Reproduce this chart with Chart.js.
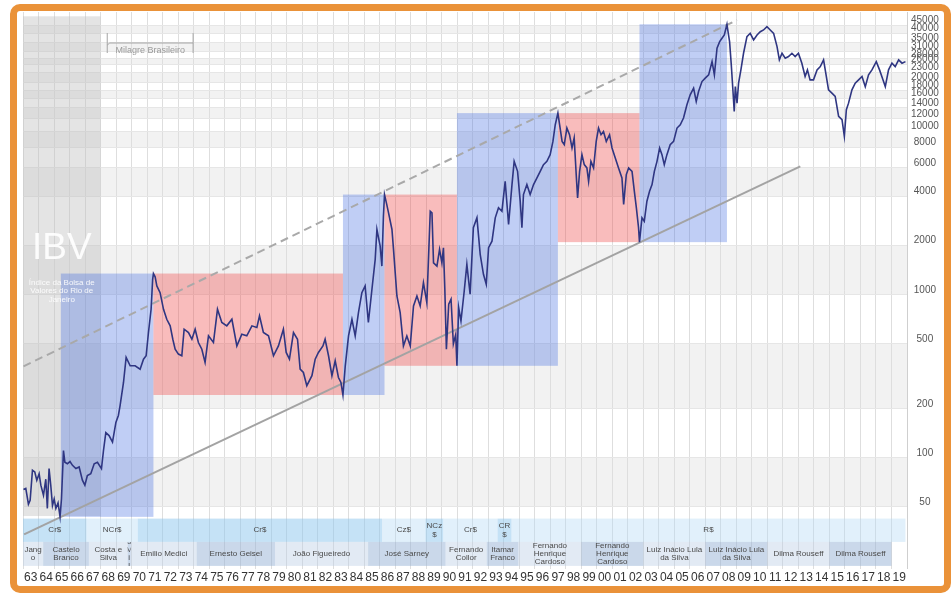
<!DOCTYPE html>
<html>
<head>
<meta charset="utf-8">
<title>IBV</title>
<script src="https://cdn.jsdelivr.net/npm/chart.js@4.4.1/dist/chart.umd.min.js"></script>
<style>
  html, body { margin: 0; padding: 0; background: #fff; }
  #frame { position: absolute; left: 10px; top: 4px; width: 941px; height: 589px;
           box-sizing: border-box; border: 7px solid #ea9239; border-radius: 10px; background: #fff; }
  #ibvChart { position: absolute; left: 0; top: 0; }
</style>
</head>
<body>
<div id="frame"></div>
<canvas id="ibvChart" width="952" height="593"></canvas>
<script>
// Série do IBV (ano, pontos)
var ibvYears = [
  1963.03, 1963.18, 1963.35, 1963.46, 1963.61, 1963.76, 1963.89, 1964.04, 1964.15, 1964.32,
  1964.47, 1964.57, 1964.68, 1964.79, 1964.90, 1965.01, 1965.12, 1965.26, 1965.39, 1965.48,
  1965.61, 1965.70, 1965.86, 1966.03, 1966.19, 1966.41, 1966.62, 1966.83, 1966.99, 1967.15,
  1967.37, 1967.59, 1967.80, 1968.06, 1968.19, 1968.34, 1968.55, 1968.77, 1968.99, 1969.15,
  1969.26, 1969.48, 1969.65, 1969.91, 1970.23, 1970.55, 1970.77, 1970.94, 1971.09, 1971.26,
  1971.36, 1971.41, 1971.52, 1971.63, 1971.84, 1972.06, 1972.27, 1972.49, 1972.66, 1972.81,
  1973.02, 1973.24, 1973.39, 1973.67, 1973.89, 1974.10, 1974.31, 1974.53, 1974.74, 1974.96,
  1975.28, 1975.54, 1975.82, 1976.14, 1976.47, 1976.79, 1977.11, 1977.43, 1977.76, 1978.08,
  1978.25, 1978.50, 1978.83, 1979.15, 1979.47, 1979.79, 1979.97, 1980.18, 1980.44, 1980.70,
  1980.87, 1981.08, 1981.30, 1981.63, 1981.84, 1982.05, 1982.34, 1982.48, 1982.70, 1982.92,
  1983.13, 1983.34, 1983.50, 1983.63, 1983.78, 1983.99, 1984.21, 1984.42, 1984.63, 1984.85,
  1985.06, 1985.27, 1985.50, 1985.71, 1985.82, 1986.03, 1986.14, 1986.24, 1986.31, 1986.45,
  1986.57, 1986.79, 1986.89, 1987.11, 1987.32, 1987.53, 1987.75, 1987.97, 1988.18, 1988.40,
  1988.61, 1988.82, 1989.04, 1989.26, 1989.37, 1989.47, 1989.69, 1989.86, 1990.01, 1990.11,
  1990.20, 1990.30, 1990.45, 1990.60, 1990.75, 1990.90, 1990.98, 1991.09, 1991.24, 1991.45,
  1991.62, 1991.83, 1992.04, 1992.27, 1992.48, 1992.69, 1992.87, 1993.02, 1993.24, 1993.45,
  1993.66, 1993.88, 1994.09, 1994.31, 1994.53, 1994.67, 1994.89, 1995.06, 1995.17, 1995.27,
  1995.49, 1995.70, 1995.92, 1996.14, 1996.35, 1996.56, 1996.78, 1996.99, 1997.17, 1997.32,
  1997.49, 1997.60, 1997.76, 1997.90, 1998.07, 1998.24, 1998.40, 1998.54, 1998.67, 1998.76,
  1998.89, 1999.04, 1999.19, 1999.36, 1999.47, 1999.62, 1999.79, 1999.96, 2000.11, 2000.27,
  2000.43, 2000.61, 2000.82, 2000.98, 2001.19, 2001.40, 2001.62, 2001.73, 2001.90, 2002.05,
  2002.27, 2002.42, 2002.55, 2002.69, 2002.75, 2002.91, 2003.06, 2003.23, 2003.40, 2003.56,
  2003.71, 2003.88, 2004.05, 2004.20, 2004.35, 2004.52, 2004.73, 2004.95, 2005.17, 2005.38,
  2005.59, 2005.81, 2006.02, 2006.24, 2006.41, 2006.56, 2006.78, 2006.99, 2007.21, 2007.43,
  2007.58, 2007.75, 2007.92, 2008.07, 2008.22, 2008.39, 2008.46, 2008.56, 2008.67, 2008.78,
  2008.86, 2008.93, 2009.04, 2009.14, 2009.29, 2009.46, 2009.68, 2009.89, 2010.11, 2010.33,
  2010.54, 2010.75, 2010.97, 2011.18, 2011.40, 2011.62, 2011.77, 2011.94, 2012.15, 2012.36,
  2012.58, 2012.79, 2013.00, 2013.22, 2013.43, 2013.58, 2013.75, 2013.97, 2014.20, 2014.41,
  2014.62, 2014.80, 2014.94, 2015.16, 2015.37, 2015.59, 2015.81, 2015.96, 2016.09, 2016.23,
  2016.45, 2016.66, 2016.88, 2017.10, 2017.31, 2017.52, 2017.74, 2018.02, 2018.23, 2018.45,
  2018.60, 2018.81, 2019.03, 2019.24, 2019.46, 2019.68, 2019.90
];
var ibvValues = [
  64, 65, 52, 55, 84, 82, 73, 80, 68, 59,
  74, 49, 86, 68, 51, 56, 49, 53, 43.5, 56,
  111, 94, 92, 95, 90, 86, 88, 73, 68, 78,
  80, 92, 94, 86, 111, 143, 137, 125, 165, 182,
  209, 290, 413, 367, 367, 350, 403, 423, 587, 815,
  1244, 1350, 1290, 1133, 1031, 815, 708, 645, 534, 464,
  433, 423, 615, 587, 534, 615, 510, 464, 385, 560,
  510, 815, 676, 645, 708, 486, 573, 560, 645, 630,
  742, 587, 560, 423, 486, 615, 443, 403, 587, 534,
  350, 334, 277, 319, 403, 443, 486, 534, 423, 319,
  394, 311, 290, 243, 367, 560, 708, 560, 778, 1031,
  1133, 676, 1081, 1649, 2515, 1990, 1500, 3030, 4118, 3600,
  3180, 2515, 1898, 984, 778, 486, 560, 486, 854, 984,
  854, 1187, 895, 3250, 3180, 1570, 1500, 1898, 1570, 1940,
  1080, 464, 875, 940, 500, 570, 367, 835, 691, 1055,
  1537, 1008, 2576, 2965, 1770, 1335, 1160, 1944, 2133, 2965,
  3415, 3254, 4965, 2700, 4740, 6580, 5715, 3750, 2576, 4118,
  4740, 4118, 4740, 5210, 5715, 6284, 6580, 7233, 8720, 11036,
  13000, 11036, 8720, 8330, 10530, 9590, 7950, 9150, 5460, 3930,
  5715, 7233, 6284, 6000, 4965, 6580, 6000, 8720, 10530, 9590,
  10040, 8720, 9590, 7950, 6900, 6000, 5210, 3580, 5460, 6000,
  5715, 4310, 3415, 2576, 2103, 2965, 2826, 3750, 4310, 4740,
  5715, 6580, 7950, 7233, 6284, 7233, 8330, 8720, 10530, 11036,
  12130, 14630, 16840, 18500, 15320, 17640, 20300, 21300, 22300, 26900,
  22300, 32500, 35660, 37400, 39200, 45570, 41050, 35660, 25700, 17640,
  13300, 18900, 14970, 19840, 23940, 30270, 38290, 40120, 36535, 39200,
  41050, 42060, 44080, 42060, 40120, 33260, 27570, 30270, 28230, 28890,
  30270, 28890, 30270, 26310, 21800, 23940, 20800, 20800, 23940, 25090,
  27570, 21800, 18070, 17240, 16450, 12410, 11840, 9360, 13630, 14970,
  18070, 19840, 20800, 21800, 18900, 22300, 23940, 26900, 23940, 20800,
  18900, 23940, 26310, 25090, 27570, 26310, 26900
];

// Ciclos de alta (azul) e baixa (vermelho)
var cycleStart = [1965.44, 1971.41, 1983.63, 1986.31, 1990.98, 1997.49, 2002.75];
var cycleEnd   = [1971.41, 1983.63, 1986.31, 1990.98, 1997.49, 2002.75, 2008.39];
var cycleLow   = [43.5, 243, 243, 367, 367, 2103, 2103];
var cycleHigh  = [1350, 1350, 4118, 4118, 13000, 13000, 45570];
var cycleKind  = ['alta', 'baixa', 'alta', 'baixa', 'alta', 'baixa', 'alta'];

// Linhas de tendência (ano, pontos)
var topTrendYears = [1963.03, 2009.04];
var topTrendValues = [364, 48400];
var baseTrendYears = [1963.07, 2013.12];
var baseTrendValues = [34, 6130];

// Faixa IBV e Milagre Brasileiro
var ibvBandYears = [1963, 1968];
var ibvBandValues = [44, 51000];
var milagreYears = [1968.4, 1974.0];

// Moedas
var currencyNames = ['Cr$', 'NCr$', 'Cr$', 'Cz$', 'NCz$', 'Cr$', 'CR$', 'R$'];
var currencyStart = [1963, 1967.1, 1970.4, 1986.15, 1988.95, 1990.1, 1993.6, 1994.5];
var currencyEnd   = [1967.1, 1970.4, 1986.15, 1988.95, 1990.1, 1993.6, 1994.5, 2019.9];

// Presidentes
var presNames = ['Jango', 'Castelo Branco', 'Costa e Silva', 'Junta Militar', 'Emilio Medici',
  'Ernesto Geisel', 'João Figueiredo', 'José Sarney', 'Fernando Collor', 'Itamar Franco',
  'Fernando Henrique Cardoso', 'Fernando Henrique Cardoso', 'Luiz Inácio Lula da Silva',
  'Luiz Inácio Lula da Silva', 'Dilma Rouseff', 'Dilma Rouseff'];
var presStart = [1963, 1964.3, 1967.25, 1969.75, 1969.95, 1974.2, 1979.25, 1985.25, 1990.25,
  1992.9, 1994.95, 1999, 2003, 2007, 2011, 2015];
var presEnd = [1964.3, 1967.25, 1969.75, 1969.95, 1974.2, 1979.25, 1985.25, 1990.25, 1992.9,
  1994.95, 1999, 2003, 2007, 2011, 2015, 2019];

// Eixos
var gridYears = [];
for (var g = 1963; g <= 2020; g++) gridYears.push(g);
var yearLabels = ['63','64','65','66','67','68','69','70','71','72','73','74','75','76','77',
  '78','79','80','81','82','83','84','85','86','87','88','89','90','91','92','93','94','95',
  '96','97','98','99','00','01','02','03','04','05','06','07','08','09','10','11','12','13',
  '14','15','16','17','18','19'];
var yTicks = [50, 100, 200, 500, 1000, 2000, 4000, 6000, 8000, 10000, 12000, 14000, 16000,
  18000, 20000, 23000, 26000, 28000, 31000, 35000, 40000, 45000];

function wrapLines(ctx, text, maxW) {
  var words = text.split(' ');
  var lines = [];
  var cur = '';
  words.forEach(function (w) {
    var test = cur ? cur + ' ' + w : w;
    if (ctx.measureText(test).width <= maxW) { cur = test; return; }
    if (cur) lines.push(cur);
    var piece = '';
    for (var k = 0; k < w.length; k++) {
      var ch = w[k];
      if (piece && ctx.measureText(piece + ch).width > maxW) { lines.push(piece); piece = ch; }
      else piece += ch;
    }
    cur = piece;
  });
  if (cur) lines.push(cur);
  return lines;
}

function drawRow(ctx, xs, top, h, starts, ends, names, colors) {
  ctx.font = '8px "Liberation Sans", Arial, sans-serif';
  ctx.textAlign = 'center';
  ctx.textBaseline = 'middle';
  for (var i = 0; i < names.length; i++) {
    var x0 = xs.getPixelForValue(starts[i]);
    var x1 = xs.getPixelForValue(ends[i]);
    ctx.fillStyle = colors[i % 2];
    ctx.fillRect(x0, top, x1 - x0, h);
    ctx.save();
    ctx.beginPath();
    ctx.rect(x0, top, x1 - x0, h);
    ctx.clip();
    var lines = wrapLines(ctx, names[i], x1 - x0 - 2);
    var lh = 8.2;
    var y0 = top + h / 2 - (lines.length - 1) * lh / 2;
    ctx.fillStyle = '#4a4a4a';
    lines.forEach(function (l, j) { ctx.fillText(l, (x0 + x1) / 2, y0 + j * lh); });
    ctx.restore();
  }
}

// faixas cinza alternadas entre os ticks
var stripesPlugin = {
  id: 'stripes',
  beforeDraw: function (chart) {
    var ctx = chart.ctx, a = chart.chartArea, y = chart.scales.y;
    var desc = yTicks.slice().reverse();
    ctx.save();
    ctx.fillStyle = '#f2f2f2';
    for (var i = 0; i + 1 < desc.length; i += 2) {
      var t = y.getPixelForValue(desc[i]);
      var b = y.getPixelForValue(desc[i + 1]);
      ctx.fillRect(a.left, t, a.right - a.left, b - t);
    }
    ctx.restore();
  }
};

var overlayPlugin = {
  id: 'overlay',
  beforeDatasetsDraw: function (chart) {
    var ctx = chart.ctx, a = chart.chartArea, x = chart.scales.x, y = chart.scales.y;
    ctx.save();

    // painel IBV
    var bx0 = x.getPixelForValue(ibvBandYears[0]), bx1 = x.getPixelForValue(ibvBandYears[1]);
    var by0 = y.getPixelForValue(ibvBandValues[1]), by1 = y.getPixelForValue(ibvBandValues[0]);
    ctx.fillStyle = 'rgba(190,190,190,0.42)';
    ctx.fillRect(bx0, by0, bx1 - bx0, by1 - by0);

    // ciclos
    for (var i = 0; i < cycleStart.length; i++) {
      var x0 = x.getPixelForValue(cycleStart[i]), x1 = x.getPixelForValue(cycleEnd[i]);
      var y0 = y.getPixelForValue(cycleHigh[i]), y1 = y.getPixelForValue(cycleLow[i]);
      ctx.fillStyle = cycleKind[i] === 'alta' ? 'rgba(65,105,225,0.33)' : 'rgba(240,80,80,0.38)';
      ctx.fillRect(x0, y0, x1 - x0, y1 - y0);
    }

    // textos IBV
    var cx = (bx0 + bx1) / 2;
    var ty = y.getPixelForValue(1650);
    ctx.fillStyle = 'rgba(255,255,255,0.9)';
    ctx.textAlign = 'center';
    ctx.textBaseline = 'alphabetic';
    ctx.font = '37px "Liberation Sans", Arial, sans-serif';
    ctx.fillText('IBV', cx, ty);
    ctx.font = '8px "Liberation Sans", Arial, sans-serif';
    ctx.textBaseline = 'middle';
    ['Índice da Bolsa de', 'Valores do Rio de', 'Janeiro'].forEach(function (l, j) {
      ctx.fillText(l, cx, ty + 23 + j * 8.5);
    });

    // Milagre Brasileiro
    var mx0 = x.getPixelForValue(milagreYears[0]), mx1 = x.getPixelForValue(milagreYears[1]);
    var top = a.top + 21, mid = a.top + 31, bot = a.top + 41;
    ctx.strokeStyle = '#a5a5a5';
    ctx.lineWidth = 1;
    ctx.beginPath();
    ctx.moveTo(mx0 + 0.5, top); ctx.lineTo(mx0 + 0.5, bot);
    ctx.moveTo(mx0 + 0.5, mid + 2); ctx.lineTo(mx0 + 3, mid); ctx.lineTo(mx1 - 0.5, mid);
    ctx.moveTo(mx1 - 0.5, top); ctx.lineTo(mx1 - 0.5, bot);
    ctx.stroke();
    ctx.fillStyle = '#9a9a9a';
    ctx.font = '9px "Liberation Sans", Arial, sans-serif';
    ctx.textBaseline = 'middle';
    ctx.fillText('Milagre Brasileiro', (mx0 + mx1) / 2, a.top + 39);

    // linhas de moedas e presidentes
    drawRow(ctx, x, a.bottom - 50, 23.3, currencyStart, currencyEnd, currencyNames,
      ['rgba(140,198,238,0.5)', 'rgba(180,218,244,0.4)']);
    drawRow(ctx, x, a.bottom - 26.7, 24, presStart, presEnd, presNames,
      ['rgba(185,205,228,0.42)', 'rgba(150,178,214,0.5)']);

    ctx.restore();
  }
};

function toPoints(xs, vs) {
  return xs.map(function (v, i) { return { x: v, y: vs[i] }; });
}

var ctxEl = document.getElementById('ibvChart').getContext('2d');
var ibvChart = new Chart(ctxEl, {
  type: 'line',
  data: {
    datasets: [{
      label: 'IBV',
      data: toPoints(ibvYears, ibvValues),
      borderColor: '#2f3682',
      borderWidth: 1.6,
      pointRadius: 0,
      tension: 0
    }, {
      label: 'Tendência topo',
      data: toPoints(topTrendYears, topTrendValues),
      borderColor: '#a9a9a9',
      borderWidth: 2,
      borderDash: [8, 5],
      pointRadius: 0
    }, {
      label: 'Tendência base',
      data: toPoints(baseTrendYears, baseTrendValues),
      borderColor: '#a3a3a3',
      borderWidth: 2,
      pointRadius: 0
    }]
  },
  options: {
    responsive: false,
    animation: false,
    devicePixelRatio: 1,
    layout: { padding: { left: 23, top: 12, right: 1, bottom: 6 } },
    plugins: { legend: { display: false }, tooltip: { enabled: false } },
    scales: {
      x: {
        type: 'linear', position: 'bottom', min: 1963, max: 2020,
        afterBuildTicks: function (s) { s.ticks = gridYears.map(function (v) { return { value: v }; }); },
        ticks: { display: false },
        grid: { color: '#dedede', drawTicks: false },
        border: { display: false }
      },
      xl: {
        type: 'linear', position: 'bottom', min: 1963, max: 2020,
        afterBuildTicks: function (s) { s.ticks = yearLabels.map(function (v, i) { return { value: 1963.5 + i }; }); },
        ticks: {
          autoSkip: false, maxRotation: 0, minRotation: 0, padding: 2,
          color: '#333', font: { size: 12, family: '"Liberation Sans", Arial, sans-serif' },
          callback: function (v, i) { return yearLabels[i]; }
        },
        grid: { display: false, drawTicks: false },
        border: { display: false }
      },
      y: {
        type: 'logarithmic', position: 'right', min: 20.95, max: 54200,
        afterBuildTicks: function (s) { s.ticks = yTicks.map(function (v) { return { value: v }; }); },
        afterFit: function (s) { s.width = 44; },
        ticks: {
          autoSkip: false, padding: 4, crossAlign: 'center', labelOffset: -5,
          color: '#555', font: { size: 10, family: '"Liberation Sans", Arial, sans-serif' },
          callback: function (v) { return String(v); }
        },
        grid: { color: '#e6e6e6', drawTicks: false },
        border: { color: '#cfcfcf' }
      }
    }
  },
  plugins: [stripesPlugin, overlayPlugin]
});
</script>
</body>
</html>
